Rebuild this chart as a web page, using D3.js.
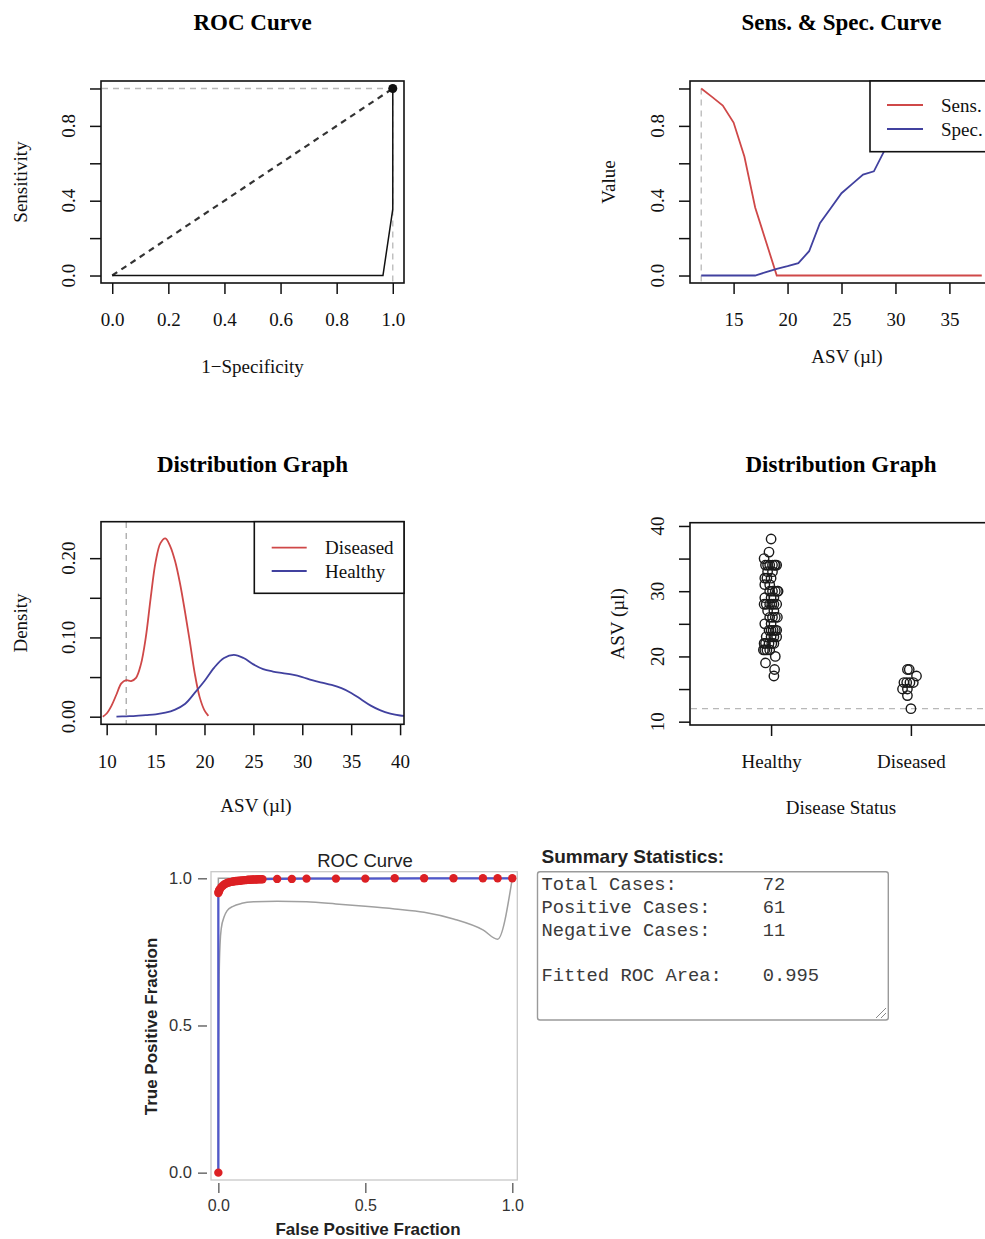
<!DOCTYPE html>
<html>
<head>
<meta charset="utf-8">
<script src="https://cdn.jsdelivr.net/npm/d3@7"></script>
<style>
  body { margin: 0; background: #fff; }
  svg { display: block; }
</style>
</head>
<body>
<svg id="chart" width="985" height="1239"></svg>
<script>
// ---- data ----

// panel 1: empirical ROC
const rocFpr = [0, 0.965, 1.0, 1.0];
const rocTpr = [0, 0, 0.355, 1.0];
const optimalPoint = { fpr: 1.0, tpr: 1.0 };

// panel 2: sensitivity / specificity by cutoff
const cutoffs = [12, 13, 14, 15, 16, 17, 18, 19, 20, 21, 22, 23, 24, 25, 26, 27, 28, 29, 30, 31, 32, 33, 34, 35, 36, 37, 38];
const sensValues = [1.0, 0.955, 0.909, 0.818, 0.636, 0.364, 0.182, 0, 0, 0, 0, 0, 0, 0, 0, 0, 0, 0, 0, 0, 0, 0, 0, 0, 0, 0, 0];
const specValues = [0, 0, 0, 0, 0, 0, 0.018, 0.036, 0.05, 0.066, 0.13, 0.28, 0.36, 0.44, 0.49, 0.54, 0.557, 0.67, 0.75, 0.79, 0.84, 0.87, 0.97, 0.98, 0.98, 1.0, 1.0];
const bestCutoff = 12;

// panel 3: density curves
const densDiseasedX = [9.6, 10, 10.5, 11, 11.5, 12, 12.5, 13, 13.5, 14, 14.5, 15, 15.5, 16, 16.5, 17, 17.5, 18, 18.5, 19, 19.5, 20, 20.4];
const densDiseasedY = [0.000, 0.004, 0.014, 0.028, 0.042, 0.046, 0.045, 0.049, 0.066, 0.100, 0.150, 0.195, 0.219, 0.225, 0.215, 0.196, 0.168, 0.133, 0.095, 0.055, 0.025, 0.008, 0.001];
const densHealthyX = [11, 12, 13, 14, 15, 16, 17, 18, 19, 20, 21, 22, 23, 24, 25, 26, 27, 28, 29, 30, 31, 32, 33, 34, 35, 36, 37, 38, 39, 40, 40.4];
const densHealthyY = [0.000, 0.0005, 0.001, 0.002, 0.003, 0.005, 0.009, 0.016, 0.030, 0.045, 0.062, 0.074, 0.078, 0.074, 0.066, 0.060, 0.057, 0.055, 0.053, 0.050, 0.046, 0.043, 0.040, 0.036, 0.030, 0.022, 0.014, 0.008, 0.004, 0.0015, 0.001];

// panel 4: strip chart
const statusGroups = ["Healthy", "Diseased"];
const healthyAsv = [38, 36, 35, 34, 34, 34, 34, 34, 34, 34, 33, 33, 32, 32, 32, 31, 31, 30, 30, 30, 30, 30, 29, 29, 29,
  28, 28, 28, 28, 28, 28, 27, 27, 26, 26, 26, 26, 25, 25, 24, 24, 24, 24, 24, 23, 23, 23, 23,
  22, 22, 22, 22, 22, 21, 21, 21, 21, 20, 19, 18, 17];
const healthyJitter = [0.00, -0.015, -0.05, -0.04, -0.025, -0.01, 0.01, 0.025, 0.03, 0.04, -0.025, 0.01, -0.045, -0.03, 0.0, -0.045, -0.01,
  -0.01, 0.01, 0.03, 0.05, 0.045, -0.045, 0.0, 0.02, -0.05, -0.035, -0.01, 0.005, 0.02, 0.04, -0.025, 0.02,
  -0.01, 0.01, 0.03, 0.045, -0.045, 0.0, -0.015, 0.0, 0.015, 0.03, 0.04, -0.035, 0.0, 0.02, 0.04,
  -0.05, -0.04, -0.015, 0.005, 0.02, -0.055, -0.045, -0.03, -0.01, 0.03, -0.04, 0.025, 0.02];
const diseasedAsv = [18, 18, 17, 16, 16, 16, 16, 15, 15, 14, 12];
const diseasedJitter = [-0.025, -0.012, 0.04, -0.05, -0.03, -0.007, 0.017, -0.06, -0.025, -0.025, 0.0];

// panel 5: fitted ROC with confidence bounds
const fitFpr = [0, 0, 0.002, 0.005, 0.01, 0.02, 0.03, 0.05, 0.07, 0.1, 0.15, 0.2, 0.3, 0.5, 0.7, 1.0];
const fitTpr = [0, 0.95, 0.957, 0.963, 0.970, 0.979, 0.984, 0.989, 0.992, 0.995, 0.997, 0.998, 0.999, 0.999, 1.0, 1.0];
const obsFpr = [0, 0, 0.001, 0.002, 0.003, 0.005, 0.01, 0.015, 0.02, 0.025, 0.03, 0.035, 0.04, 0.045, 0.05, 0.055, 0.06, 0.065,
  0.07, 0.075, 0.08, 0.085, 0.09, 0.095, 0.1, 0.105, 0.11, 0.115, 0.12, 0.125, 0.13, 0.135, 0.14, 0.145, 0.15,
  0.2, 0.25, 0.3, 0.4, 0.5, 0.6, 0.7, 0.8, 0.9, 0.95, 1.0];
const obsTpr = [0, 0.950, 0.954, 0.957, 0.959, 0.963, 0.970, 0.975, 0.979, 0.982, 0.984, 0.986, 0.987, 0.988, 0.989, 0.990, 0.991, 0.991,
  0.992, 0.992, 0.993, 0.993, 0.994, 0.994, 0.995, 0.995, 0.995, 0.996, 0.996, 0.996, 0.996, 0.997, 0.997, 0.997, 0.997,
  0.998, 0.998, 0.999, 0.999, 0.999, 1.0, 1.0, 1.0, 1.0, 1.0, 1.0];
const lowerFpr = [0, 0.001, 0.003, 0.006, 0.01, 0.02, 0.03, 0.05, 0.08, 0.12, 0.2, 0.3, 0.4, 0.5, 0.6, 0.7, 0.8, 0.9, 0.95, 1.0];
const lowerTpr = [0, 0.45, 0.68, 0.78, 0.83, 0.87, 0.89, 0.905, 0.915, 0.92, 0.922, 0.92, 0.913, 0.905, 0.896, 0.885, 0.862, 0.825, 0.793, 1.0];
const upperFpr = [0, 0, 1.0];
const upperTpr = [0, 1.0, 1.0];

// summary text box
const summaryLabels = ["Total Cases:", "Positive Cases:", "Negative Cases:", "", "Fitted ROC Area:"];
const summaryValues = ["72", "61", "11", "", "0.995"];

// ---- drawing ----
const svg = d3.select("#chart");
const serif = "'Liberation Serif','Times New Roman',serif";
const sans = "'Liberation Sans',Arial,sans-serif";
const mono = "'Liberation Mono','Courier New',monospace";
const RED = "#cf4848";
const BLUE = "#41419f";

// R-style base-graphics panel: box, outward ticks, rotated y labels
function rPanel(o) {
  const x = d3.scaleLinear().domain(o.xDomain).range([o.box.l, o.box.r]);
  const y = d3.scaleLinear().domain(o.yDomain).range([o.box.b, o.box.t]);
  const g = svg.append("g");

  g.append("text")
    .attr("x", o.titleX).attr("y", o.titleY)
    .attr("text-anchor", "middle").attr("dominant-baseline", "central")
    .style("font-family", serif).style("font-size", "23px").style("font-weight", "bold")
    .text(o.title);

  const xAxis = g.append("g")
    .attr("transform", `translate(0,${o.box.b})`)
    .call(d3.axisBottom(x).tickValues(o.xTicks).tickSize(11).tickPadding(19)
      .tickFormat(o.xFormat || (d => d)));
  xAxis.select(".domain").remove();
  xAxis.selectAll("line").attr("stroke", "#111").attr("stroke-width", 1.5);
  xAxis.selectAll("text").style("font-family", serif).style("font-size", "19px").attr("fill", "#111");

  const yAxis = g.append("g")
    .attr("transform", `translate(${o.box.l},0)`)
    .call(d3.axisLeft(y).tickValues(o.yTicks).tickSize(11).tickFormat(""));
  yAxis.select(".domain").remove();
  yAxis.selectAll("line").attr("stroke", "#111").attr("stroke-width", 1.5);

  g.selectAll(".ylab").data(o.yLabels).join("text")
    .attr("transform", d => `translate(${o.box.l - 33},${y(d)}) rotate(-90)`)
    .attr("text-anchor", "middle").attr("dominant-baseline", "central")
    .style("font-family", serif).style("font-size", "19px").attr("fill", "#111")
    .text(o.yFormat);

  g.append("text")
    .attr("x", o.xTitleX).attr("y", o.xTitleY)
    .attr("text-anchor", "middle").attr("dominant-baseline", "central")
    .style("font-family", serif).style("font-size", "19px").attr("fill", "#111")
    .text(o.xTitle);

  g.append("text")
    .attr("transform", `translate(${o.yTitleX},${(o.box.t + o.box.b) / 2}) rotate(-90)`)
    .attr("text-anchor", "middle").attr("dominant-baseline", "central")
    .style("font-family", serif).style("font-size", "19px").attr("fill", "#111")
    .text(o.yTitle);

  const plot = g.append("g");
  g.append("rect")
    .attr("x", o.box.l).attr("y", o.box.t)
    .attr("width", o.box.r - o.box.l).attr("height", o.box.b - o.box.t)
    .attr("fill", "none").attr("stroke", "#111").attr("stroke-width", 1.6);

  return { x, y, g, plot };
}

function legend(g, box, items, lineX, textX, rowY) {
  g.append("rect")
    .attr("x", box.x).attr("y", box.y).attr("width", box.w).attr("height", box.h)
    .attr("fill", "#fff").attr("stroke", "#111").attr("stroke-width", 1.6);
  items.forEach((it, i) => {
    g.append("line")
      .attr("x1", lineX[0]).attr("x2", lineX[1]).attr("y1", rowY[i]).attr("y2", rowY[i])
      .attr("stroke", it.color).attr("stroke-width", 1.8);
    g.append("text")
      .attr("x", textX).attr("y", rowY[i]).attr("dominant-baseline", "central")
      .style("font-family", serif).style("font-size", "19px").attr("fill", "#111")
      .text(it.label);
  });
}

// ---- panel 1: ROC Curve ----
{
  const p = rPanel({
    box: { l: 101, t: 81, r: 404, b: 283 },
    xDomain: [-0.04, 1.04], yDomain: [-0.04, 1.04],
    xTicks: [0, 0.2, 0.4, 0.6, 0.8, 1.0], xFormat: d3.format(".1f"),
    yTicks: [0, 0.2, 0.4, 0.6, 0.8, 1.0], yLabels: [0, 0.4, 0.8], yFormat: d3.format(".1f"),
    title: "ROC Curve", titleX: 252.5, titleY: 22,
    xTitle: "1\u2212Specificity", xTitleX: 252.5, xTitleY: 366,
    yTitle: "Sensitivity", yTitleX: 20
  });
  const { x, y, plot } = p;
  plot.append("line")
    .attr("x1", 102).attr("x2", x(optimalPoint.fpr))
    .attr("y1", y(optimalPoint.tpr)).attr("y2", y(optimalPoint.tpr))
    .attr("stroke", "#b8b8b8").attr("stroke-width", 1.3).attr("stroke-dasharray", "6,5");
  plot.append("line")
    .attr("x1", x(optimalPoint.fpr)).attr("x2", x(optimalPoint.fpr))
    .attr("y1", y(optimalPoint.tpr)).attr("y2", 283)
    .attr("stroke", "#b8b8b8").attr("stroke-width", 1.3).attr("stroke-dasharray", "6,5");
  plot.append("line")
    .attr("x1", x(0)).attr("y1", y(0)).attr("x2", x(1)).attr("y2", y(1))
    .attr("stroke", "#333").attr("stroke-width", 2.2).attr("stroke-dasharray", "6,5");
  const line = d3.line().x((d, i) => x(rocFpr[i])).y((d, i) => y(rocTpr[i]));
  plot.append("path").datum(rocFpr).attr("d", line)
    .attr("fill", "none").attr("stroke", "#111").attr("stroke-width", 1.5);
  plot.append("circle")
    .attr("cx", x(optimalPoint.fpr)).attr("cy", y(optimalPoint.tpr)).attr("r", 4.5)
    .attr("fill", "#111");
}

// ---- panel 2: Sens. & Spec. Curve ----
{
  const p = rPanel({
    box: { l: 690, t: 81, r: 993, b: 283 },
    xDomain: [10.96, 39.04], yDomain: [-0.04, 1.04],
    xTicks: [15, 20, 25, 30, 35],
    yTicks: [0, 0.2, 0.4, 0.6, 0.8, 1.0], yLabels: [0, 0.4, 0.8], yFormat: d3.format(".1f"),
    title: "Sens. & Spec. Curve", titleX: 841.5, titleY: 22,
    xTitle: "ASV (\u00b5l)", xTitleX: 847, xTitleY: 356,
    yTitle: "Value", yTitleX: 608
  });
  const { x, y, g, plot } = p;
  plot.append("line")
    .attr("x1", x(bestCutoff)).attr("x2", x(bestCutoff)).attr("y1", y(1)).attr("y2", 283)
    .attr("stroke", "#b8b8b8").attr("stroke-width", 1.3).attr("stroke-dasharray", "6,5");
  const sensLine = d3.line().x((d, i) => x(cutoffs[i])).y(d => y(d));
  plot.append("path").datum(sensValues).attr("d", sensLine)
    .attr("fill", "none").attr("stroke", RED).attr("stroke-width", 1.8);
  plot.append("path").datum(specValues).attr("d", sensLine)
    .attr("fill", "none").attr("stroke", BLUE).attr("stroke-width", 1.8);
  legend(g, { x: 870, y: 81, w: 200, h: 70.7 },
    [{ label: "Sens.", color: RED }, { label: "Spec.", color: BLUE }],
    [887, 923], 941, [105, 129]);
}

// ---- panel 3: Distribution Graph (density) ----
{
  const p = rPanel({
    box: { l: 101, t: 521.7, r: 404, b: 724.3 },
    xDomain: [9.42, 40.4], yDomain: [-0.0096, 0.246],
    xTicks: [10, 15, 20, 25, 30, 35, 40],
    yTicks: [0, 0.05, 0.10, 0.15, 0.20], yLabels: [0, 0.10, 0.20], yFormat: d3.format(".2f"),
    title: "Distribution Graph", titleX: 252.5, titleY: 464,
    xTitle: "ASV (\u00b5l)", xTitleX: 256, xTitleY: 805,
    yTitle: "Density", yTitleX: 20
  });
  const { x, y, g, plot } = p;
  plot.append("line")
    .attr("x1", x(bestCutoff)).attr("x2", x(bestCutoff)).attr("y1", 522).attr("y2", 724)
    .attr("stroke", "#a8a8a8").attr("stroke-width", 1.3).attr("stroke-dasharray", "6,5");
  const dLine = xs => d3.line().curve(d3.curveCatmullRom).x((d, i) => x(xs[i])).y(d => y(d));
  plot.append("path").datum(densDiseasedY).attr("d", dLine(densDiseasedX))
    .attr("fill", "none").attr("stroke", RED).attr("stroke-width", 1.8);
  plot.append("path").datum(densHealthyY).attr("d", dLine(densHealthyX))
    .attr("fill", "none").attr("stroke", BLUE).attr("stroke-width", 1.8);
  legend(g, { x: 254.3, y: 521.7, w: 149.7, h: 71.6 },
    [{ label: "Diseased", color: RED }, { label: "Healthy", color: BLUE }],
    [271.7, 306.7], 325, [547.7, 571]);
}

// ---- panel 4: Distribution Graph (strip chart) ----
{
  const p = rPanel({
    box: { l: 690, t: 522.7, r: 992, b: 725 },
    xDomain: [0.42, 2.58], yDomain: [9.49, 40.5],
    xTicks: [1, 2], xFormat: d => statusGroups[d - 1],
    yTicks: [10, 15, 20, 25, 30, 35, 40], yLabels: [10, 20, 30, 40], yFormat: d => d,
    title: "Distribution Graph", titleX: 841, titleY: 464,
    xTitle: "Disease Status", xTitleX: 841, xTitleY: 807,
    yTitle: "ASV (\u00b5l)", yTitleX: 617
  });
  const { x, y, plot } = p;
  plot.append("line")
    .attr("x1", 691).attr("x2", 992).attr("y1", y(bestCutoff)).attr("y2", y(bestCutoff))
    .attr("stroke", "#b8b8b8").attr("stroke-width", 1.3).attr("stroke-dasharray", "6,5");
  const pts = healthyAsv.map((v, i) => ({ g: 1 + healthyJitter[i], v }))
    .concat(diseasedAsv.map((v, i) => ({ g: 2 + diseasedJitter[i], v })));
  plot.selectAll("circle").data(pts).join("circle")
    .attr("cx", d => x(d.g)).attr("cy", d => y(d.v)).attr("r", 4.7)
    .attr("fill", "none").attr("stroke", "#1a1a1a").attr("stroke-width", 1.4);
}

// ---- panel 5: fitted ROC Curve ----
{
  const box = { l: 211, t: 871.7, r: 517.3, b: 1180 };
  const x = d3.scaleLinear().domain([-0.025, 1.017]).range([box.l, box.r]);
  const y = d3.scaleLinear().domain([-0.025, 1.0225]).range([box.b, box.t]);
  const g = svg.append("g");

  g.append("rect")
    .attr("x", box.l).attr("y", box.t).attr("width", box.r - box.l).attr("height", box.b - box.t)
    .attr("fill", "#fff").attr("stroke", "#c8c8c8").attr("stroke-width", 1.3);

  const xAxis = g.append("g").attr("transform", `translate(0,${box.b + 3})`)
    .call(d3.axisBottom(x).tickValues([0, 0.5, 1]).tickSize(10).tickPadding(7).tickFormat(d3.format(".1f")));
  xAxis.select(".domain").remove();
  xAxis.selectAll("line").attr("stroke", "#555").attr("stroke-width", 1.3);
  xAxis.selectAll("text").style("font-family", sans).style("font-size", "16px").attr("fill", "#333");

  const yAxis = g.append("g").attr("transform", `translate(${box.l - 4},0)`)
    .call(d3.axisLeft(y).tickValues([0, 0.5, 1]).tickSize(9).tickPadding(6).tickFormat(d3.format(".1f")));
  yAxis.select(".domain").remove();
  yAxis.selectAll("line").attr("stroke", "#555").attr("stroke-width", 1.3);
  yAxis.selectAll("text").style("font-family", sans).style("font-size", "16.5px").attr("fill", "#333");

  g.append("text")
    .attr("x", 365).attr("y", 860.5).attr("text-anchor", "middle").attr("dominant-baseline", "central")
    .style("font-family", sans).style("font-size", "18.5px").attr("fill", "#222")
    .text("ROC Curve");
  g.append("text")
    .attr("x", 368).attr("y", 1229).attr("text-anchor", "middle").attr("dominant-baseline", "central")
    .style("font-family", sans).style("font-size", "17px").style("font-weight", "bold").attr("fill", "#222")
    .text("False Positive Fraction");
  g.append("text")
    .attr("transform", `translate(151,1026.5) rotate(-90)`)
    .attr("text-anchor", "middle").attr("dominant-baseline", "central")
    .style("font-family", sans).style("font-size", "17px").style("font-weight", "bold").attr("fill", "#222")
    .text("True Positive Fraction");

  const lineOf = (xs, ys) => d3.line().x((d, i) => x(xs[i])).y((d, i) => y(ys[i]));
  g.append("path").datum(upperFpr).attr("d", lineOf(upperFpr, upperTpr))
    .attr("fill", "none").attr("stroke", "#a0a0a0").attr("stroke-width", 1.5);
  g.append("path").datum(lowerFpr).attr("d", lineOf(lowerFpr, lowerTpr).curve(d3.curveMonotoneX))
    .attr("fill", "none").attr("stroke", "#a0a0a0").attr("stroke-width", 1.5);
  g.append("path").datum(fitFpr).attr("d", lineOf(fitFpr, fitTpr))
    .attr("fill", "none").attr("stroke", "#5058cc").attr("stroke-width", 2.2);
  g.selectAll(".obs").data(obsFpr).join("circle")
    .attr("cx", d => x(d)).attr("cy", (d, i) => y(obsTpr[i])).attr("r", 4.2)
    .attr("fill", "#dc2024");
}

// ---- summary statistics box ----
{
  const g = svg.append("g");
  g.append("text")
    .attr("x", 541.5).attr("y", 863)
    .style("font-family", sans).style("font-size", "19px").style("font-weight", "bold").attr("fill", "#222")
    .text("Summary Statistics:");
  g.append("rect")
    .attr("x", 537.5).attr("y", 871.7).attr("width", 350.8).attr("height", 148.3).attr("rx", 2.5)
    .attr("fill", "#fff").attr("stroke", "#9a9a9a").attr("stroke-width", 1.4);
  const rowY = d3.scaleLinear().domain([0, 4]).range([890, 981]);
  summaryLabels.forEach((lab, i) => {
    g.append("text").attr("x", 541.5).attr("y", rowY(i))
      .style("font-family", mono).style("font-size", "18.8px").attr("fill", "#3a3a3a").text(lab);
    g.append("text").attr("x", 762.7).attr("y", rowY(i))
      .style("font-family", mono).style("font-size", "18.8px").attr("fill", "#3a3a3a").text(summaryValues[i]);
  });
  // resize grip
  g.append("line").attr("x1", 886).attr("y1", 1008).attr("x2", 876).attr("y2", 1018)
    .attr("stroke", "#888").attr("stroke-width", 1);
  g.append("line").attr("x1", 886).attr("y1", 1013).attr("x2", 881).attr("y2", 1018)
    .attr("stroke", "#888").attr("stroke-width", 1);
}
</script>
</body>
</html>
